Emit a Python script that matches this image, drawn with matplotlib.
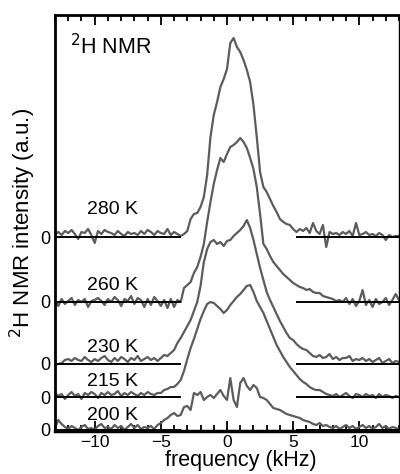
import numpy as np
import matplotlib
matplotlib.use("Agg")
import matplotlib.pyplot as plt
from matplotlib.ticker import MultipleLocator

plt.rcParams['font.family'] = ['Liberation Sans', 'DejaVu Sans']

# frequency grid (kHz), 0.25 kHz sampling
freq = np.linspace(-13, 13, 105)

temps = ["200 K", "215 K", "230 K", "260 K", "280 K"]
offsets = [0, 33, 66, 128, 193]

spec_200 = [2, 10, 6, 3, 1, 4, 2, 0, 3, 5, 1, 2, 0, 4, 6, 2, 3, 1, 5, 2,
            4, 0, 3, 6, 2, 5, 1, 3, 2, 4, 1, 5, 7, 10, 12, 15, 17, 14, 15, 23,
            24, 20, 37, 35, 38, 30, 33, 35, 32, 36, 40, 34, 30, 52, 30, 23,
            47, 52, 44, 40, 45, 42, 33, 32, 30, 26, 22, 21, 20, 18, 16, 15,
            14, 13, 12, 10, 9, 8, 6, 5, 7, 4, 5, 3, 2, 4, 1, 3, 5, 2, 4, 1,
            3, 5, 2, 4, 1, 3, 6, 2, 4, 1, 3, 2, 1]
spec_215 = [4, 1, 3, -2, 2, 5, 1, 3, -2, 4, 2, 5, 3, -1, 4, 2, 5, 2, 3, 6,
            1, 4, 2, 5, 3, 1, 4, 2, 5, 3, 2, 4, 4, 7, 8, 10, 10, 13, 17, 26,
            38, 49, 58, 68, 78, 86, 93, 95, 94, 91, 88, 84, 87, 92, 96, 100,
            103, 107, 111, 112, 105, 96, 90, 84, 76, 68, 60, 52, 46, 40, 35, 30,
            26, 22, 18, 15, 13, 10, 8, 7, 7, 5, 3, 2, 1, 3, 0, 2, 4, 1, -1, 3,
            2, 0, 3, 1, 2, -1, 3, 0, 2, 1, -1, 1, 0]
spec_230 = [-1, 0, 1, 4, 5, 3, 6, 4, 3, 7, 4, 2, 5, 3, 6, 8, 4, 2, 6, 3,
            7, 5, 2, 6, 4, 8, 3, 5, 7, 4, 6, 3, 6, 9, 8, 11, 14, 21, 26, 32,
            38, 44, 53, 62, 78, 102, 115, 122, 124, 120, 122, 118, 123, 124, 128, 131,
            134, 138, 144, 136, 124, 110, 96, 84, 72, 64, 57, 50, 43, 37, 31, 26,
            24, 20, 17, 15, 14, 11, 8, 7, 9, 6, 7, 10, 5, 7, 4, 6, 6, 8, 3, 5,
            4, 6, 3, 5, 2, 4, 6, 1, 3, 5, 1, 3, 2]
spec_260 = [2, -4, 3, -2, 1, 4, -3, 2, 0, 3, -5, 1, 2, 4, 1, -3, 3, 0, 5, 2,
            -4, 3, 1, 6, -2, 4, 2, -5, 3, -3, 5, 1, -4, 2, -6, 3, -5, 2, 0, 14,
            17, 20, 29, 35, 45, 58, 80, 100, 118, 132, 144, 140, 148, 155, 157, 160,
            164, 160, 154, 144, 133, 115, 88, 58, 53, 46, 40, 36, 32, 28, 25, 22,
            19, 17, 15, 14, 12, 13, 10, 9, 9, 6, 5, 4, 3, 1, 2, 0, 4, -2, 3, -4,
            1, 12, -3, 2, -5, 3, -2, 0, 4, -3, 2, 8, 2]
spec_280 = [3, 5, 2, 6, 4, 7, 3, -2, 5, 4, 8, 2, -6, 6, 3, 7, 5, 4, 2, 6,
            3, 1, 5, 3, 4, 2, 6, 3, 7, 5, 2, 6, 4, 3, 8, 2, 5, 3, 1, 3,
            6, 18, 23, 24, 30, 40, 62, 100, 122, 135, 150, 158, 168, 194, 199, 190,
            185, 177, 167, 155, 132, 100, 65, 50, 45, 38, 31, 25, 18, 15, 13, 12,
            8, 5, 8, 6, 9, 4, 14, 6, 3, 12, -10, 5, 3, 4, 2, 5, 3, 6, 1, 14,
            2, 3, 5, 2, 3, 1, 4, 2, -3, 2, 0, 1, 1]

spectra = [spec_200, spec_215, spec_230, spec_260, spec_280]

fig = plt.figure(figsize=(4.0, 4.74), dpi=100)
ax = fig.add_axes([55/400, 43/474, 344/400, 416/474])

for spec, off in zip(spectra, offsets):
    ax.plot(freq, np.array(spec) + off, color='#5c5c5c', lw=1.6, zorder=2)
    ax.hlines(off, -13, -3.5, color='black', lw=1.4, zorder=3)
    ax.hlines(off, 5.2, 13, color='black', lw=1.4, zorder=3)

label_dy = [15, 15, 17, 17, 27]
for t, off, dy in zip(temps, offsets, label_dy):
    ax.text(-10.6, off + dy, t, fontsize=14, va='center', ha='left', zorder=4)

ax.text(-11.9, 383, r"$^{2}$H NMR", fontsize=15.5, va='center', ha='left')

ax.set_xlim(-13, 13)
ax.set_ylim(-1, 415)
ax.set_xticks([-10, -5, 0, 5, 10])
ax.xaxis.set_minor_locator(MultipleLocator(1))
ax.tick_params(axis='x', which='both', direction='in', top=True, bottom=True,
               labelsize=12.5, pad=3)
ax.tick_params(axis='x', which='major', length=7, width=1.3)
ax.tick_params(axis='x', which='minor', length=4, width=1.3)
ax.set_yticks(offsets)
ax.set_yticklabels(["0"] * len(offsets))
ax.tick_params(axis='y', which='both', length=0, labelsize=13, pad=3)

for side, w in [('left', 2.0), ('top', 2.0), ('bottom', 2.5), ('right', 1.0)]:
    ax.spines[side].set_linewidth(w)

ax.set_xlabel("frequency (kHz)", fontsize=15.5, labelpad=0, x=0.54)
ax.set_ylabel(r"$^{2}$H NMR intensity (a.u.)", fontsize=16, labelpad=2)

fig.savefig("out.png", dpi=100)
